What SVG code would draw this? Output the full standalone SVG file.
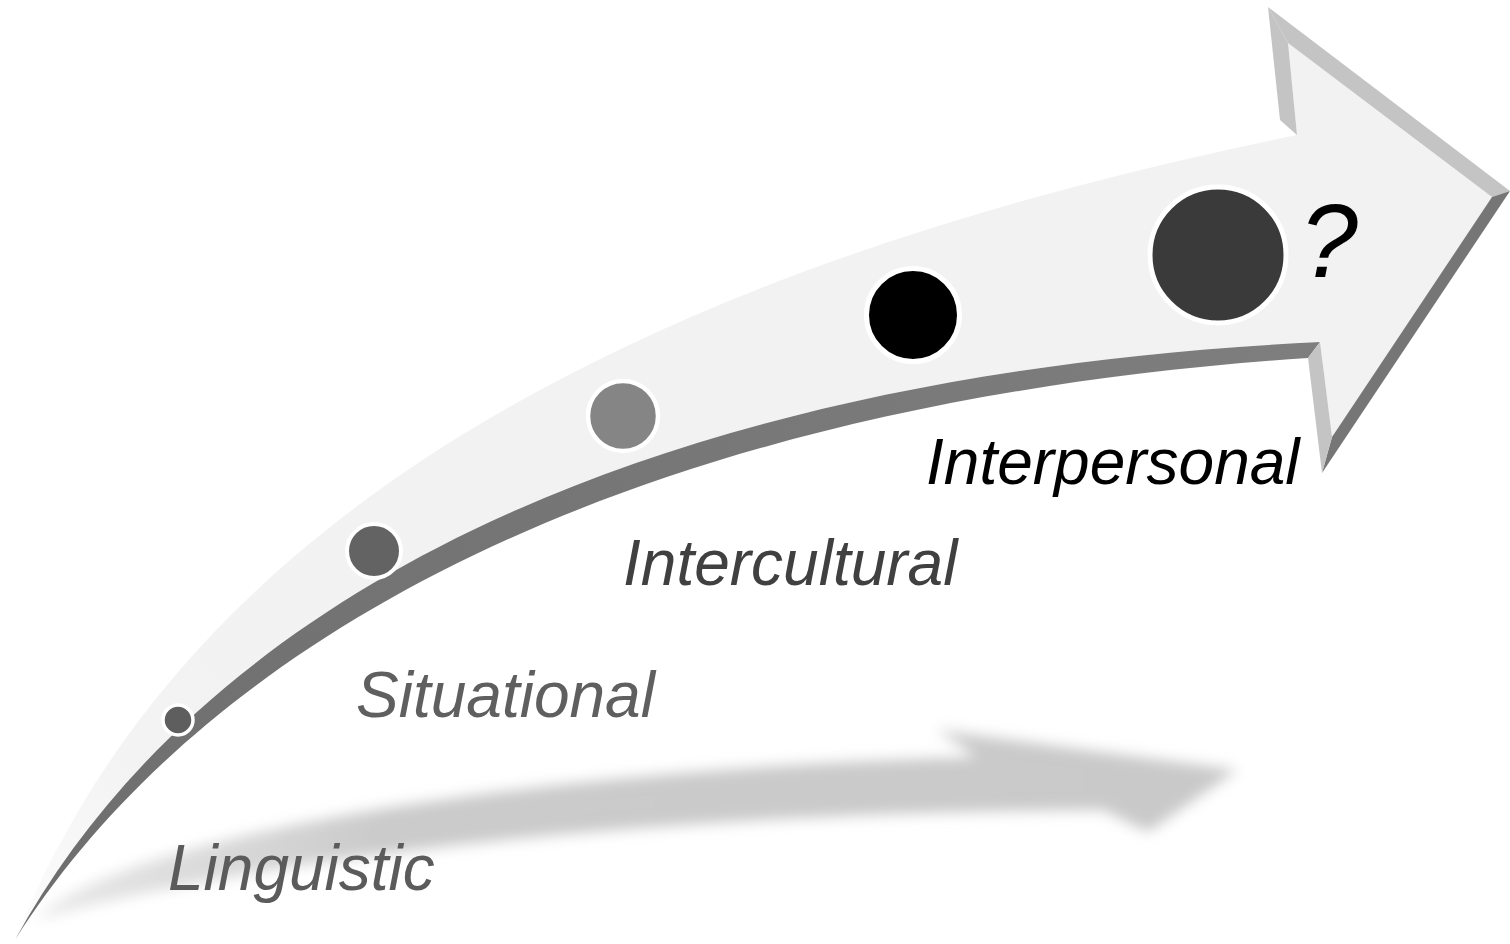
<svg xmlns="http://www.w3.org/2000/svg" width="1510" height="944" viewBox="0 0 1510 944">
  <defs>
    <filter id="blur" x="-10%" y="-30%" width="120%" height="160%">
      <feGaussianBlur stdDeviation="7"/>
    </filter>
    <linearGradient id="shadowGrad" x1="0" y1="0" x2="1510" y2="0" gradientUnits="userSpaceOnUse">
      <stop offset="0" stop-color="#ececec"/>
      <stop offset="0.25" stop-color="#cbcbcb"/>
      <stop offset="1" stop-color="#c8c8c8"/>
    </linearGradient>
    <linearGradient id="faceGrad" x1="0" y1="940" x2="420" y2="480" gradientUnits="userSpaceOnUse">
      <stop offset="0" stop-color="#fdfdfd"/>
      <stop offset="0.35" stop-color="#f3f3f3"/>
      <stop offset="1" stop-color="#f2f2f2"/>
    </linearGradient>
    <linearGradient id="bandGrad" x1="0" y1="940" x2="1320" y2="340" gradientUnits="userSpaceOnUse">
      <stop offset="0" stop-color="#6e6e6e"/>
      <stop offset="1" stop-color="#7e7e7e"/>
    </linearGradient>
  </defs>
  <style>
    .label { font-family: "Liberation Sans", Arial, sans-serif; font-style: italic; font-size: 64px; }
    .dot { stroke: #ffffff; }
    .light { fill: #c4c4c4; }
    .dark { fill: #767676; }
  </style>
  <rect width="1510" height="944" fill="#ffffff"/>

  <g id="shadow">
    <path d="M36,920 C110,840 500,770 977,757 L937,730 L1237,770 L1148,832 L1103,810 C700,812 280,850 36,920 Z" fill="url(#shadowGrad)" filter="url(#blur)"/>
  </g>

  <g id="arrow">
    <path id="arrow-face" d="M15,940 C155,590 510,295 1297,135 L1288,43 L1492,197 L1332,437 L1320,342 C612,376 192,616 15,940 Z" fill="url(#faceGrad)"/>
    <path id="arrow-band" d="M15,940 C192,616 612,376 1320,342 L1308,358 C620,404 202,644 15,940 Z" fill="url(#bandGrad)"/>
    <polygon class="light" points="1268,7 1288,43 1297,135 1280,120"/>
    <polygon class="light" points="1268,7 1510,191 1492,197 1288,43"/>
    <polygon class="dark" points="1510,191 1322,473 1332,437 1492,197"/>
    <polygon class="light" points="1308,358 1320,342 1332,437 1322,473"/>
  </g>

  <g id="node-linguistic">
    <circle class="dot" cx="178" cy="720" r="15" fill="#5e5e5e" stroke-width="3.5"/>
    <text class="label" x="168" y="890" fill="#5b5b5b">Linguistic</text>
  </g>
  <g id="node-situational">
    <circle class="dot" cx="374" cy="551" r="27" fill="#636363" stroke-width="4"/>
    <text class="label" x="356" y="717" fill="#5f5f5f">Situational</text>
  </g>
  <g id="node-intercultural">
    <circle class="dot" cx="623" cy="416" r="35" fill="#858585" stroke-width="4.5"/>
    <text class="label" x="623" y="585" fill="#404040">Intercultural</text>
  </g>
  <g id="node-interpersonal">
    <circle class="dot" cx="913" cy="315" r="46.5" fill="#000000" stroke-width="5"/>
    <text class="label" x="926" y="484" fill="#000000">Interpersonal</text>
  </g>
  <g id="node-unknown">
    <circle class="dot" cx="1218" cy="255" r="68" fill="#3a3a3a" stroke-width="5"/>
    <text class="label" x="1300" y="277" fill="#000000" style="font-size:104px">?</text>
  </g>
</svg>
